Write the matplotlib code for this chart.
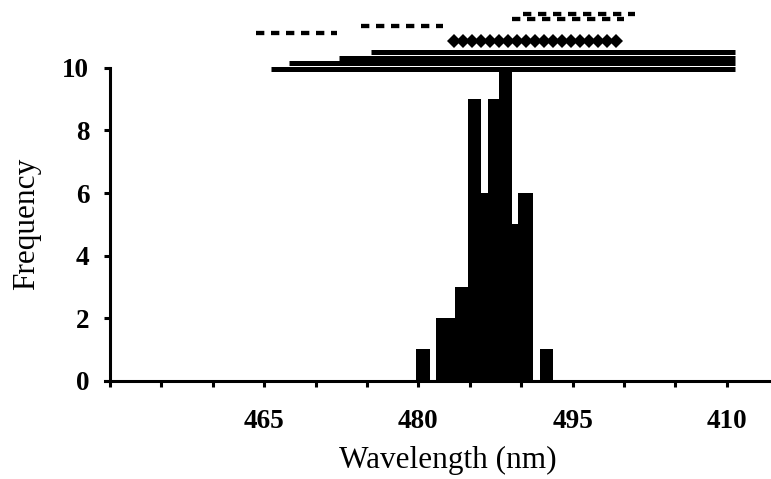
import numpy as np
import matplotlib
matplotlib.use("Agg")
import matplotlib.pyplot as plt

plt.rcParams['font.family'] = ['Liberation Serif', 'DejaVu Serif']
plt.rcParams['lines.scale_dashes'] = False

# histogram of wavelengths (bin edges in nm, counts)
bin_lo = [479.8, 481.7, 483.6, 484.8, 486.1, 486.8, 487.8, 489.1, 489.7, 491.8]
bin_hi = [481.1, 483.6, 484.8, 486.1, 486.8, 487.8, 489.1, 489.7, 491.1, 493.1]
counts = [1, 2, 3, 9, 6, 9, 10, 5, 6, 1]

# reported ranges drawn above the histogram
solid_lo = [465.7, 467.4, 472.25, 475.35]
solid_hi = [510.8, 510.8, 510.8, 510.8]
solid_y = [9.96, 10.165, 10.313, 10.523]

dash_lo = [464.17, 474.39, 489.08, 490.15]
dash_hi = [472.05, 482.36, 500.0, 501.1]
dash_y = [11.12, 11.35, 11.56, 11.73]

diamond_lo, diamond_hi, diamond_n, diamond_y = 483.5, 499.25, 19, 10.873

xticks = [450, 455, 460, 465, 470, 475, 480, 485, 490, 495, 500, 505, 510]
xticklabels = ['', '', '', '465', '', '', '480', '', '', '495', '', '', '410']
yticks = [0, 2, 4, 6, 8, 10]

fig = plt.figure(figsize=(7.71, 4.79), dpi=100)
ax = fig.add_axes([0.1361, 0.2052, 0.8639, 0.7948])

ax.bar(bin_lo, counts, width=np.subtract(bin_hi, bin_lo), align='edge',
       color='black', linewidth=0, zorder=2)

for lo, hi, y in zip(solid_lo, solid_hi, solid_y):
    ax.plot([lo, hi], [y, y], color='black', lw=3.6, solid_capstyle='butt',
            clip_on=False)

for lo, hi, y in zip(dash_lo, dash_hi, dash_y):
    ax.plot([lo, hi], [y, y], color='black', lw=3.1,
            linestyle=(0, (6.0, 4.8)), dash_capstyle='butt', clip_on=False)

dx = np.linspace(diamond_lo, diamond_hi, diamond_n)
ax.plot(dx, np.full(diamond_n, diamond_y), linestyle='none', marker='D',
        markersize=7.4, color='black', markeredgewidth=0, clip_on=False)

ax.set_xlim(449.5, 514.3)
ax.set_ylim(0, 12.17)

for s in ['top', 'right']:
    ax.spines[s].set_visible(False)
ax.spines['left'].set_position(('data', 450))
ax.spines['left'].set_bounds(0, 10)
ax.spines['left'].set_linewidth(2.2)
ax.spines['bottom'].set_linewidth(2.2)

ax.set_xticks(xticks)
ax.set_xticklabels(xticklabels)
ax.set_yticks(yticks)
ax.tick_params(axis='x', direction='out', length=4.5, width=2.2, pad=16,
               labelsize=19.5)
ax.tick_params(axis='y', direction='out', length=4, width=2.2, pad=11,
               labelsize=19.5)
for lab in ax.get_xticklabels() + ax.get_yticklabels():
    lab.set_fontweight('bold')

ax.set_xlabel('Wavelength (nm)', fontsize=22.5)
ax.set_ylabel('Frequency', fontsize=22.5)
ax.xaxis.set_label_coords(0.515, -0.172)
ax.yaxis.set_label_coords(-0.096, 5 / 12.17)

fig.savefig('out.png', dpi=100)
